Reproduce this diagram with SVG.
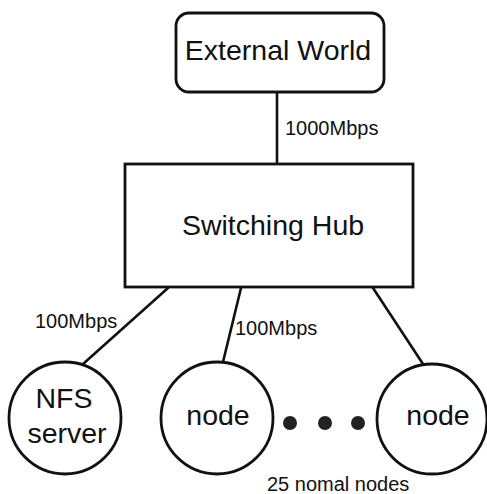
<svg xmlns="http://www.w3.org/2000/svg" width="487" height="494" viewBox="0 0 487 494">
  <style>
    .shape { fill: #ffffff; stroke: #111111; stroke-width: 2.8; }
    .link { stroke: #111111; stroke-width: 2.6; fill: none; stroke-linecap: round; }
    .big { font-family: "Liberation Sans", Arial, sans-serif; font-size: 28.5px; fill: #111111; text-anchor: middle; }
    .small { font-family: "Liberation Sans", Arial, sans-serif; font-size: 20px; fill: #111111; }
    .dot { fill: #222222; }
  </style>
  <rect width="487" height="494" fill="#ffffff"/>

  <!-- connectors -->
  <g id="connectors">
    <line class="link" x1="277" y1="92" x2="277" y2="164"/>
    <line class="link" x1="168" y1="288" x2="83" y2="364"/>
    <line class="link" x1="241" y1="288" x2="223" y2="362"/>
    <line class="link" x1="373" y1="288" x2="423" y2="364"/>
  </g>

  <!-- link speed labels -->
  <g id="labels">
    <text class="small" x="285" y="135">1000Mbps</text>
    <text class="small" x="35" y="328">100Mbps</text>
    <text class="small" x="235" y="335">100Mbps</text>
  </g>

  <g id="external-world">
    <rect class="shape" x="176" y="13" width="208" height="79" rx="13" ry="13"/>
    <text class="big" x="278" y="60">External World</text>
  </g>

  <g id="switching-hub">
    <rect class="shape" x="125" y="164" width="288" height="123"/>
    <text class="big" x="273" y="235">Switching Hub</text>
  </g>

  <g id="nfs-server">
    <circle class="shape" cx="65" cy="418" r="56"/>
    <text class="big" x="64" y="408">NFS</text>
    <text class="big" x="67" y="443">server</text>
  </g>

  <g id="node-1">
    <circle class="shape" cx="217" cy="418" r="56"/>
    <text class="big" x="218" y="425">node</text>
  </g>

  <g id="ellipsis">
    <circle class="dot" cx="290" cy="423" r="7"/>
    <circle class="dot" cx="325" cy="423" r="7"/>
    <circle class="dot" cx="358" cy="423" r="7"/>
  </g>

  <g id="node-n">
    <circle class="shape" cx="432" cy="419" r="55"/>
    <text class="big" x="438" y="425">node</text>
  </g>

  <g id="caption">
    <text class="small" x="267" y="491">25 nomal nodes</text>
  </g>
</svg>
